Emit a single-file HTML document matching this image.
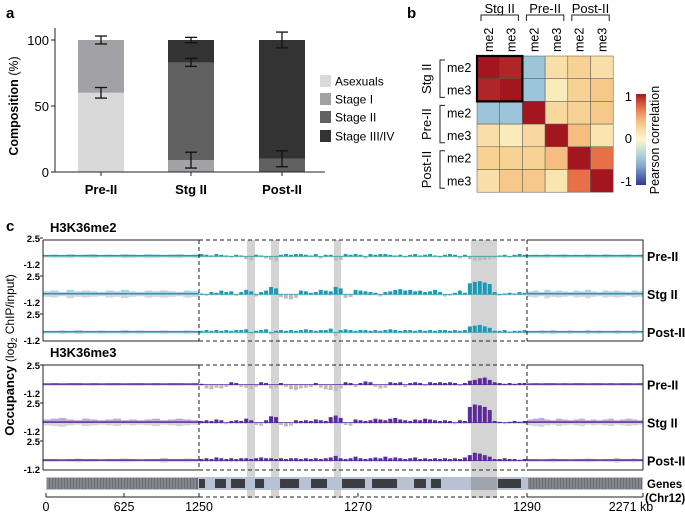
<!DOCTYPE html>
<html><head><meta charset="utf-8"><style>
body{margin:0;background:#fff}
svg{display:block;font-family:"Liberation Sans",Arial,sans-serif}
</style></head><body>
<svg id="fig" width="685" height="513" viewBox="0 0 685 513" xmlns="http://www.w3.org/2000/svg">
<g id="pa"></g>
<g id="pb"></g>
<g id="pc"></g>
</svg>
<script>
// ---------- Panel a data ----------
const aCats = ["Pre-II","Stg II","Post-II"];
const aSeriesNames = ["Asexuals","Stage I","Stage II","Stage III/IV"];
const aAsex = [60,0,0];
const aStage1 = [40,9,0];
const aStage2 = [0,74,10];
const aStage34 = [0,17,90];
const aErrTops = [[60,100],[9,83,100],[10,100]];
const aErrSize = [[4,3],[6,3,2],[6,6]];
const aTicks = [0,50,100];
// ---------- Panel b data ----------
const bLabels = ["me2","me3","me2","me3","me2","me3"];
const bGroups = ["Stg II","Pre-II","Post-II"];
const bRow0 = [1,0.95,-0.45,0.2,0.3,0.2];
const bRow1 = [0.95,1,-0.45,0.1,0.3,0.35];
const bRow2 = [-0.45,-0.45,1,0.25,0.3,0.35];
const bRow3 = [0.2,0.1,0.25,1,0.4,0.15];
const bRow4 = [0.3,0.3,0.3,0.4,1,0.7];
const bRow5 = [0.2,0.35,0.35,0.15,0.7,1];
// ---------- Panel c data ----------
const me2Pre=[0.3,0.2,0.1,0.3,0.2,0.1,-0.2,0.2,0.1,-0.4,-0.6,0.2,0.1,-0.3,-0.5,-0.7,0.2,0.3,0.2,0.3,0.3,0.2,0.1,0.3,-0.3,0.2,0.2,-0.6,-0.5,0.3,0.2,0.3,0.2,-0.3,0.3,0.2,0.3,0.3,0.2,0.1,0.2,-0.2,0.2,0.3,0.1,0.2,0.3,0.1,-0.2,0.2,0.3,0.2,-0.3,0.2,-0.4,-0.6,-0.6,-0.5,-0.4,-0.3,0.1,0.2,-0.2,0.2,0.3,0.2];
const me2Stg=[0.1,-0.2,0.3,0.2,0.5,0.3,0.4,-0.2,0.3,0.6,0.4,-0.3,0.3,0.5,1.0,0.8,-0.4,-0.6,-0.7,-0.5,0.5,0.4,0.2,0.3,0.6,0.5,0.4,1.0,0.8,-0.5,-0.4,0.6,0.5,0.4,0.3,0.2,-0.3,0.3,0.4,0.6,0.7,0.5,0.6,0.4,0.5,0.3,0.4,0.6,0.3,-0.3,-0.2,0.2,0.5,0.2,1.5,1.7,1.8,1.6,1.4,0.3,-0.2,0.1,0.2,0.1,0.3,0.2];
const me2Post=[0.2,0.3,0.2,0.3,0.2,0.3,0.2,0.3,0.3,0.4,-0.3,0.2,0.3,0.4,-0.3,0.2,0.3,0.2,0.3,0.2,0.3,0.4,0.3,0.2,0.3,0.3,0.5,-0.5,0.3,0.4,0.3,0.2,0.3,0.3,0.2,0.3,0.2,0.3,0.4,0.3,0.2,0.3,0.3,0.2,0.3,0.2,0.3,0.2,0.3,0.3,0.2,0.3,0.2,0.3,0.8,0.9,1.0,0.8,0.6,0.2,0.2,0.3,0.1,0.2,0.2,0.3];
const me3Pre=[0.1,-0.5,-0.6,-0.4,-0.5,-0.3,0.3,0.2,-0.3,-0.4,-0.6,-0.3,0.3,0.2,-0.5,-0.4,0.2,-0.3,-0.6,-0.7,-0.5,-0.4,-0.3,0.2,-0.4,-0.6,-0.7,-0.8,-0.5,0.3,0.2,-0.3,0.2,0.4,0.3,-0.3,-0.5,-0.4,0.3,0.2,0.3,-0.3,0.2,0.3,0.2,-0.2,0.3,0.2,0.3,0.2,0.3,0.2,-0.2,0.2,0.5,0.6,0.8,0.9,0.6,0.3,0.2,0.1,0.2,0.1,0.2,0.2];
const me3Stg=[0.2,0.3,0.2,0.4,0.3,-0.2,0.2,0.3,0.2,0.5,0.3,-0.3,-0.4,0.3,0.8,0.7,-0.3,-0.5,-0.4,0.3,0.2,0.3,0.2,0.4,0.3,0.2,0.7,0.9,0.6,-0.3,-0.4,0.4,0.3,0.2,0.3,0.5,0.4,0.3,0.5,0.6,0.4,0.3,0.2,0.4,0.3,0.5,0.4,0.3,0.2,0.3,0.2,-0.2,0.3,0.2,2.0,2.3,2.2,2.0,1.6,0.2,0.1,-0.2,0.1,0.2,0.1,0.2];
const me3Post=[0.2,0.3,0.2,0.4,0.3,0.2,0.3,0.2,0.3,0.3,0.2,0.3,0.4,0.3,0.3,0.2,0.3,0.2,0.3,0.3,0.2,0.3,0.2,0.3,0.2,0.3,0.4,0.6,0.3,0.2,0.3,0.5,0.3,0.2,0.3,0.4,0.3,0.5,0.3,0.4,0.3,0.2,0.3,0.4,0.2,0.3,0.2,0.3,0.2,0.3,0.2,0.3,0.2,0.4,0.7,1.0,0.9,0.7,0.5,0.2,0.2,0.3,0.2,0.2,0.1,0.2];
const flankMe2Pre=[0.2,0.25,0.2,0.3,0.2,0.25,0.3,0.2,0.25,0.2,0.3,0.25,0.2,0.3,0.25,0.2,0.25,0.3,0.2,0.25];
const flankMe2Stg=[0.4,0.5,0.3,0.6,0.4,0.5,0.4,0.3,0.5,0.4,0.6,0.4,0.3,0.5,0.4,0.5,0.4,0.3,0.5,0.4];
const flankMe2Post=[0.2,0.2,0.25,0.2,0.3,0.2,0.2,0.25,0.2,0.2,0.3,0.2,0.25,0.2,0.2,0.25,0.2,0.2,0.25,0.2];
const flankMe3Pre=[0.15,0.2,0.15,0.2,0.2,0.15,0.2,0.15,0.2,0.2,0.15,0.2,0.2,0.15,0.2,0.15,0.2,0.2,0.15,0.2];
const flankMe3Stg=[0.4,0.5,0.6,0.4,0.3,0.5,0.4,0.3,0.4,0.5,0.3,0.4,0.3,0.4,0.5,0.3,0.4,0.5,0.4,0.3];
const flankMe3Post=[0.2,0.2,0.15,0.2,0.25,0.2,0.2,0.15,0.2,0.2,0.25,0.2,0.15,0.2,0.2,0.3,0.2,0.2,0.25,0.2];
const cTrackNames=["Pre-II","Stg II","Post-II"];
const xTickLabels=["0","625","1250","1270","1290","2271 kb"];
const shadeStartKb=[1255.85,1258.78,1266.46,1283.17];
const shadeEndKb=[1256.83,1259.76,1267.32,1286.34];
const geneStartKb=[1250,1251.95,1253.9,1256.83,1259.88,1263.66,1267.44,1271.1,1276.22,1278.29,1286.46];
const geneEndKb=[1250.73,1253.29,1255.61,1257.93,1262.2,1265.61,1270.24,1274.15,1277.68,1279.51,1289.27];

const NS="http://www.w3.org/2000/svg";
function mk(parent,tag,attrs,txt){const e=document.createElementNS(NS,tag);for(const k in attrs)e.setAttribute(k,attrs[k]);if(txt!==undefined)e.textContent=txt;parent.appendChild(e);return e;}

// ===== Panel a =====
const pa=document.getElementById('pa');
let t=mk(pa,'text',{x:6,y:18,'font-size':15,'font-weight':'bold'},'a');

const ay=v=>172-v*1.32;
const ax=[101,191,282];
const aColors=["#d9d9d9","#a2a2a6","#616161","#333333"];
const aSeries=[aAsex,aStage1,aStage2,aStage34];
aCats.forEach((c,i)=>{let base=0;aSeries.forEach((s,j)=>{if(s[i]>0){const r=mk(pa,'rect',{x:ax[i]-23,y:ay(base+s[i]),width:46,height:s[i]*1.32,fill:aColors[j]});

base+=s[i];}});
aErrTops[i].forEach((v,k)=>{const e=aErrSize[i][k];const g=mk(pa,'g',{stroke:'#111','stroke-width':1.3});

mk(g,'line',{x1:ax[i],x2:ax[i],y1:ay(v+e),y2:ay(v-e)});mk(g,'line',{x1:ax[i]-6,x2:ax[i]+6,y1:ay(v+e),y2:ay(v+e)});mk(g,'line',{x1:ax[i]-6,x2:ax[i]+6,y1:ay(v-e),y2:ay(v-e)});});
const l=mk(pa,'text',{x:ax[i],y:194,'font-size':13,'font-weight':'bold','text-anchor':'middle'},c);
});
let axl=mk(pa,'path',{d:'M55,28 V172 H325',fill:'none',stroke:'#222','stroke-width':1});

aTicks.forEach(v=>{mk(pa,'line',{x1:51,x2:55,y1:ay(v),y2:ay(v),stroke:'#222'});const tt=mk(pa,'text',{x:49,y:ay(v)+5,'font-size':13,'text-anchor':'end'},String(v));
});
ax.forEach(x=>mk(pa,'line',{x1:x,x2:x,y1:172,y2:176,stroke:'#222'}));
t=mk(pa,'text',{transform:'translate(18,106) rotate(-90)','text-anchor':'middle','font-size':12.5});

mk(t,'tspan',{'font-weight':'bold'},'Composition ');mk(t,'tspan',{},'(%)');
aSeriesNames.forEach((n,j)=>{const g=mk(pa,'g',{});
const cy=[81,99,117,136][j];mk(g,'rect',{x:320,y:cy-6,width:11,height:12,fill:aColors[j]});mk(g,'text',{x:335,y:cy+4.5,'font-size':12},n);});

// ===== Panel b =====
const pb=document.getElementById('pb');
t=mk(pb,'text',{x:407,y:18,'font-size':15,'font-weight':'bold'},'b');
const stops=[[-1,[49,54,149]],[-0.5,[145,191,219]],[0,[252,248,205]],[0.3,[247,210,148]],[0.5,[243,170,108]],[0.75,[228,98,63]],[1,[163,22,32]]];
function cmap(v){for(let i=1;i<stops.length;i++){if(v<=stops[i][0]){const a=stops[i-1],b=stops[i];const f=(v-a[0])/(b[0]-a[0]);const c=a[1].map((x,k)=>Math.round(x+(b[1][k]-x)*f));return 'rgb('+c.join(',')+')';}}return 'rgb(163,22,32)';}
const bRows=[bRow0,bRow1,bRow2,bRow3,bRow4,bRow5];
const hx0=477,hy0=56,cw=22.7;
bRows.forEach((row,r)=>row.forEach((v,c)=>{const e=mk(pb,'rect',{x:hx0+c*cw,y:hy0+r*cw,width:cw,height:cw,fill:cmap(v),stroke:'#555','stroke-width':0.5});
}));
let hb=mk(pb,'rect',{x:hx0,y:hy0,width:2*cw,height:2*cw,fill:'none',stroke:'#000','stroke-width':2.2});
bLabels.forEach((n,i)=>{const cx=hx0+(i+0.5)*cw;const e=mk(pb,'text',{transform:`translate(${cx+4.5},52) rotate(-90)`,'font-size':12.5},n);
const cy=hy0+(i+0.5)*cw;const e2=mk(pb,'text',{x:447,y:cy+4.5,'font-size':12.5},n);});
bGroups.forEach((g,i)=>{const cx=hx0+(i+1)*cw*2-cw;const e=mk(pb,'text',{x:cx,y:13,'font-size':13,'text-anchor':'middle'},g);
mk(pb,'path',{d:`M${cx-cw+4},21 V15 H${cx+cw-4} V21`,fill:'none',stroke:'#222'});
const cy=hy0+(i+1)*cw*2-cw;const e2=mk(pb,'text',{transform:`translate(${431},${cy}) rotate(-90)`,'font-size':13,'text-anchor':'middle'},g);
mk(pb,'path',{d:`M445,${cy-cw+4} H440 V${cy+cw-4} H445`,fill:'none',stroke:'#222'});});
const grad=mk(pb,'linearGradient',{id:'cbg',x1:0,y1:1,x2:0,y2:0});
for(let k=0;k<=10;k++){const v=-1+k*0.2;mk(grad,'stop',{offset:(k*10)+'%','stop-color':cmap(v)});}
let cb=mk(pb,'rect',{x:636,y:94,width:10,height:91,fill:'url(#cbg)'});
[['1',101],['0',143],['-1',186]].forEach(([s,y])=>{const e=mk(pb,'text',{x:632,y:y,'font-size':13,'text-anchor':'end'},s);});
t=mk(pb,'text',{transform:'translate(659,140) rotate(-90)','font-size':12.5,'text-anchor':'middle'},'Pearson correlation');

// ===== Panel c =====
const pc=document.getElementById('pc');
t=mk(pc,'text',{x:6,y:231,'font-size':15,'font-weight':'bold'},'c');
const X0=43,XL=199,XR=527,X1=643;
function kx(kb){return XL+(kb-1250)/40*(XR-XL);}
shadeStartKb.forEach((s,i)=>{const e=mk(pc,'rect',{x:kx(s),y:240,width:kx(shadeEndKb[i])-kx(s),height:258,fill:'#d4d4d4'});});
const groups=[{title:'H3K36me2',ty:232,top:240,tracks:[me2Pre,me2Stg,me2Post],flanks:[flankMe2Pre,flankMe2Stg,flankMe2Post],color:'#1a9bb5',tt:[238,276,314],th:27},
{title:'H3K36me3',ty:357,top:365,tracks:[me3Pre,me3Stg,me3Post],flanks:[flankMe3Pre,flankMe3Stg,flankMe3Post],color:'#5b2b9a',tt:[365,403,441],th:29}];
groups.forEach((G,gi)=>{
 t=mk(pc,'text',{x:50,y:G.ty,'font-size':13,'font-weight':'bold'},G.title);
 const bot=G.tt[2]+G.th;
 G.tracks.forEach((arr,ti)=>{const top=G.tt[ti];const sc=G.th/3.7;const base=top+2.5*sc;
  const tg=mk(pc,'g',{});
  const bw=(XR-XL)/arr.length;
  arr.forEach((v,k)=>{const x=XL+k*bw;if(v>=0){mk(tg,'rect',{x:x+0.5,y:base-v*sc,width:bw-1,height:v*sc,fill:G.color});mk(tg,'rect',{x:x+0.5,y:base,width:bw-1,height:0.15*sc,fill:'#c8c8c8'});}
   else mk(tg,'rect',{x:x+0.5,y:base,width:bw-1,height:-v*sc,fill:'#bdbdbd'});});
  const fl=G.flanks[ti];
  [[X0,XL],[XR,X1]].forEach(([a,b])=>{const fw=(b-a)/fl.length;fl.forEach((v,k)=>{const x=a+k*fw;
   mk(tg,'rect',{x:x,y:base,width:fw,height:v*0.9*sc,fill:'#d6d6d6'});
   mk(tg,'rect',{x:x,y:base-v*sc,width:fw,height:v*sc,fill:G.color,opacity:0.4});});
   mk(tg,'line',{x1:a,x2:b,y1:base-0.5,y2:base-0.5,stroke:G.color,'stroke-width':1.5});});
  mk(tg,'line',{x1:XL,x2:XR,y1:base,y2:base,stroke:G.color,'stroke-width':0.8});
  mk(pc,'line',{x1:X0-3,x2:X0,y1:top,y2:top,stroke:'#222'});
  let e=mk(pc,'text',{x:40,y:top+4,'font-size':9.5,'font-weight':'bold','text-anchor':'end'},'2.5');
  e=mk(pc,'text',{x:40,y:top+G.th+3,'font-size':9.5,'font-weight':'bold','text-anchor':'end'},'-1.2');
  e=mk(pc,'text',{x:647,y:base+5,'font-size':12.5,'font-weight':'bold'},cTrackNames[ti]);
 });
 mk(pc,'path',{d:`M${X0},${G.top} V${bot} M${X0},${G.top} H${XL} M${X0},${bot} H${XL} M${XR},${G.top} H${X1} V${bot} M${XR},${bot} H${X1}`,fill:'none',stroke:'#222','stroke-width':1});
 mk(pc,'path',{d:`M${XL},${G.top} H${XR} M${XL},${bot} H${XR} M${XL},${G.top} V${bot} M${XR},${G.top} V${bot}`,fill:'none',stroke:'#222','stroke-width':1,'stroke-dasharray':'4,3'});
});
t=mk(pc,'text',{transform:'translate(14,355) rotate(-90)','text-anchor':'middle','font-size':12});
mk(t,'tspan',{'font-weight':'bold','font-size':13},'Occupancy ');mk(t,'tspan',{},'(log');mk(t,'tspan',{'font-size':8,dy:3},'2');mk(t,'tspan',{dy:-3},' ChIP/input)');
const gg=mk(pc,'g',{});
mk(gg,'rect',{x:46,y:477,width:597,height:13,fill:'#b9c2d3'});
[[46,XL],[XR,X1]].forEach(([a,b])=>{mk(gg,'rect',{x:a+1,y:478,width:b-a-2,height:11,fill:'#6d6f75'});for(let x=a+2;x<b-1;x+=3)mk(gg,'line',{x1:x,x2:x,y1:478,y2:489,stroke:'#a9abb1','stroke-width':0.8});});
geneStartKb.forEach((s,i)=>{const e=mk(gg,'rect',{x:kx(s),y:479,width:kx(geneEndKb[i])-kx(s),height:9,fill:'#3c3e43'});});
mk(gg,'rect',{x:kx(shadeStartKb[3]),y:477,width:kx(shadeEndKb[3])-kx(shadeStartKb[3]),height:13,fill:'#888',opacity:0.5});
t=mk(pc,'text',{x:647,y:488,'font-size':11.5,'font-weight':'bold'},'Genes');
t=mk(pc,'text',{x:645,y:502,'font-size':11.5,'font-weight':'bold'},'(Chr12)');
const xt=[46,124,XL,358,XR,X1];
mk(pc,'path',{d:`M46,497 H${XL} M${XR},497 H${X1}`,stroke:'#222',fill:'none'});
mk(pc,'path',{d:`M${XL},497 H${XR}`,stroke:'#222',fill:'none','stroke-dasharray':'4,3'});
xTickLabels.forEach((s,i)=>{mk(pc,'line',{x1:xt[i],x2:xt[i],y1:493,y2:497,stroke:'#222'});
 const e=mk(pc,'text',{x:i==5?xt[i]-12:xt[i],y:511,'font-size':12.5,'text-anchor':'middle'},s);});
</script>
</body></html>
